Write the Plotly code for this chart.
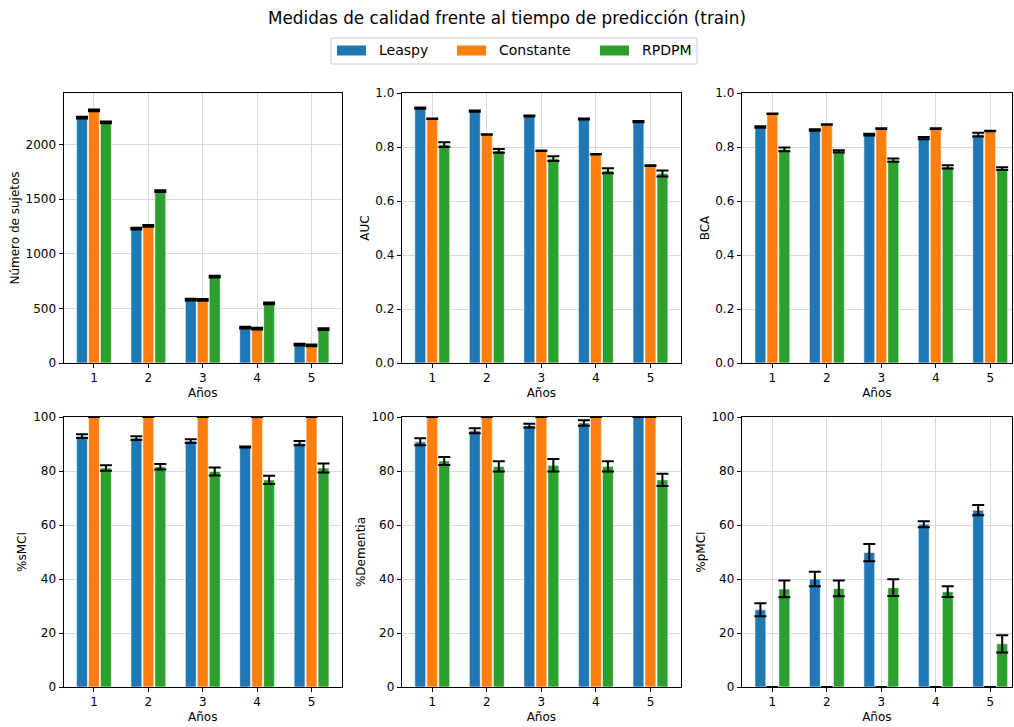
import plotly.graph_objects as go

years = [1, 2, 3, 4, 5]
series = ["Leaspy", "Constante", "RPDPM"]
colors = ["#1f77b4", "#ff7f0e", "#2ca02c"]

# Número de sujetos
n_leaspy = [2245, 1230, 580, 324, 168]
n_const = [2311, 1255, 577, 314, 162]
n_rpdpm = [2201, 1572, 791, 546, 311]
n_err = [8, 8, 8, 8, 8]

# AUC
auc_leaspy = [0.944, 0.933, 0.915, 0.904, 0.894]
auc_leaspy_err = [0.002, 0.002, 0.002, 0.002, 0.002]
auc_const = [0.905, 0.846, 0.786, 0.773, 0.731]
auc_const_err = [0.001, 0.001, 0.001, 0.001, 0.001]
auc_rpdpm = [0.809, 0.786, 0.757, 0.712, 0.702]
auc_rpdpm_err = [0.009, 0.007, 0.009, 0.009, 0.011]

# BCA
bca_leaspy = [0.874, 0.863, 0.846, 0.833, 0.846]
bca_leaspy_err = [0.003, 0.003, 0.003, 0.004, 0.007]
bca_const = [0.923, 0.883, 0.868, 0.868, 0.859]
bca_const_err = [0.001, 0.001, 0.001, 0.001, 0.001]
bca_rpdpm = [0.791, 0.784, 0.751, 0.726, 0.720]
bca_rpdpm_err = [0.007, 0.004, 0.006, 0.006, 0.005]

# %sMCI
smci_leaspy = [92.9, 92.2, 91.1, 88.9, 90.3]
smci_leaspy_err = [0.7, 0.7, 0.7, 0.2, 0.8]
smci_const = [100, 100, 100, 100, 100]
smci_const_err = [0, 0, 0, 0, 0]
smci_rpdpm = [81.1, 81.6, 79.8, 76.7, 81.1]
smci_rpdpm_err = [1.0, 1.0, 1.5, 1.5, 1.7]

# %Dementia
dem_leaspy = [90.8, 94.9, 96.8, 97.8, 100]
dem_leaspy_err = [1.3, 0.9, 0.7, 1.0, 0]
dem_const = [100, 100, 100, 100, 100]
dem_const_err = [0, 0, 0, 0, 0]
dem_rpdpm = [83.7, 81.7, 82.1, 81.7, 76.7]
dem_rpdpm_err = [1.5, 1.9, 2.3, 1.9, 2.3]

# %pMCI
pmci_leaspy = [28.6, 40.0, 49.8, 60.3, 65.5]
pmci_leaspy_err = [2.4, 2.7, 3.2, 1.1, 1.9]
pmci_const = [0, 0, 0, 0, 0]
pmci_const_err = [0, 0, 0, 0, 0]
pmci_rpdpm = [36.3, 36.5, 36.8, 35.3, 16.0]
pmci_rpdpm_err = [3.1, 2.9, 3.1, 2.0, 3.2]

panels = [
    ("Número de sujetos", [(n_leaspy, n_err), (n_const, n_err), (n_rpdpm, n_err)], [0, 2470], 500, None),
    ("AUC", [(auc_leaspy, auc_leaspy_err), (auc_const, auc_const_err), (auc_rpdpm, auc_rpdpm_err)], [0, 1], 0.2, ".1f"),
    ("BCA", [(bca_leaspy, bca_leaspy_err), (bca_const, bca_const_err), (bca_rpdpm, bca_rpdpm_err)], [0, 1], 0.2, ".1f"),
    ("%sMCI", [(smci_leaspy, smci_leaspy_err), (smci_const, smci_const_err), (smci_rpdpm, smci_rpdpm_err)], [0, 100], 20, None),
    ("%Dementia", [(dem_leaspy, dem_leaspy_err), (dem_const, dem_const_err), (dem_rpdpm, dem_rpdpm_err)], [0, 100], 20, None),
    ("%pMCI", [(pmci_leaspy, pmci_leaspy_err), (pmci_const, pmci_const_err), (pmci_rpdpm, pmci_rpdpm_err)], [0, 100], 20, None),
]

W, H = 1014, 727
xdoms_px = [(63.5, 342.0), (401.7, 681.0), (741.7, 1012.0)]
xranges = [[0.44, 5.56], [0.44, 5.56], [0.437, 5.40]]
ydoms_px = [(93.0, 363.0), (417.0, 687.0)]

FONT = "DejaVu Sans"
fig = go.Figure()
layout = {}
for i, (ylabel, data, yr, dt, fmt) in enumerate(panels):
    r, c = divmod(i, 3)
    k = i + 1
    xa = "xaxis" if k == 1 else f"xaxis{k}"
    ya = "yaxis" if k == 1 else f"yaxis{k}"
    xref = "x" if k == 1 else f"x{k}"
    yref = "y" if k == 1 else f"y{k}"
    for j, (vals, errs) in enumerate(data):
        fig.add_trace(go.Bar(
            x=years, y=vals, name=series[j], xaxis=xref, yaxis=yref,
            offsetgroup=str(j),
            marker=dict(color=colors[j], line=dict(color="rgba(255,255,255,0.6)", width=1)),
            error_y=dict(type="data", array=errs, visible=True, color="black", thickness=2, width=6),
            showlegend=False,
        ))
    x0, x1 = xdoms_px[c]
    y0, y1 = ydoms_px[r]
    common = dict(showline=True, linecolor="black", linewidth=1, mirror=True,
                  ticks="outside", ticklen=4, tickcolor="black", tickwidth=1,
                  showgrid=True, gridcolor="#d9d9d9", gridwidth=1, zeroline=False,
                  automargin=False,
                  tickfont=dict(family=FONT, size=12, color="black"))
    layout[xa] = dict(domain=[x0 / W, x1 / W], range=xranges[c], anchor=yref,
                      tickmode="array", tickvals=years, ticktext=[str(y) for y in years],
                      title=dict(text="Años", font=dict(family=FONT, size=12, color="black"), standoff=4),
                      **common)
    yd = dict(domain=[1 - y1 / H, 1 - y0 / H], range=yr, anchor=xref, dtick=dt, tick0=0,
              title=dict(text=ylabel, font=dict(family=FONT, size=12, color="black"), standoff=3),
              **common)
    if fmt:
        yd["tickformat"] = fmt
    layout[ya] = yd

shapes = []
annotations = []
# custom legend
shapes.append(dict(type="rect", xref="paper", yref="paper",
                   x0=331 / W, x1=697 / W, y0=1 - 64 / H, y1=1 - 38 / H,
                   line=dict(color="#cccccc", width=1), fillcolor="white", layer="above"))
sw = [(337, 366, 377), (457, 486, 497), (600, 629, 640)]
for j, (a, b, t) in enumerate(sw):
    shapes.append(dict(type="rect", xref="paper", yref="paper",
                       x0=a / W, x1=b / W, y0=1 - 55.5 / H, y1=1 - 45.5 / H,
                       line=dict(width=0), fillcolor=colors[j], layer="above"))
    annotations.append(dict(text=series[j], xref="paper", yref="paper",
                            x=t / W, y=1 - 50.5 / H, xanchor="left", yanchor="middle",
                            showarrow=False, font=dict(family=FONT, size=14, color="black")))

fig.update_layout(
    width=W, height=H,
    margin=dict(l=0, r=0, t=0, b=0, autoexpand=False),
    paper_bgcolor="white", plot_bgcolor="white",
    barmode="group", bargap=0.34, bargroupgap=0.09,
    title=dict(text="Medidas de calidad frente al tiempo de predicción (train)",
               x=0.5, xanchor="center", y=1 - 18 / H, yanchor="middle",
               font=dict(family=FONT, size=16.8, color="black")),
    shapes=shapes, annotations=annotations,
    font=dict(family=FONT, size=12, color="black"),
    **layout,
)

fig.write_html("out.html")
